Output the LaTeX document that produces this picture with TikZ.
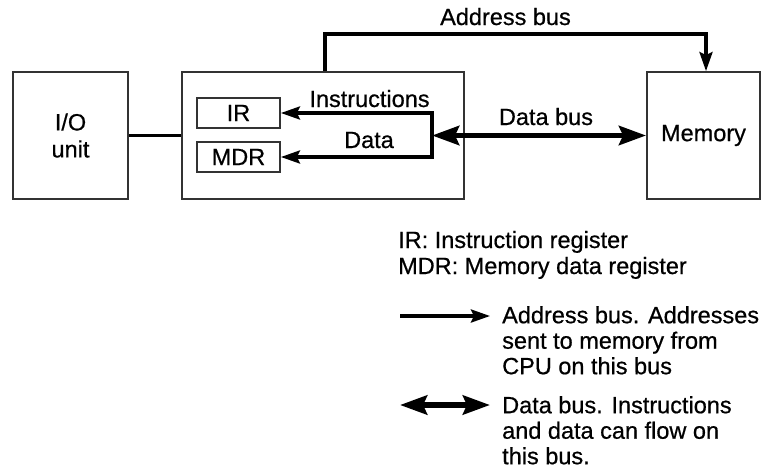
\documentclass[tikz,border=0pt]{standalone}
\usepackage{fontspec}
\setmainfont[FakeBold=0.6]{Liberation Sans}
\usetikzlibrary{arrows.meta}
\begin{document}
\begin{tikzpicture}[x=1pt,y=-1pt,
  lbl/.style={font=\fontsize{23.5}{25.5}\selectfont,inner sep=0pt},
  box/.style={draw=black!80,line width=1.8pt,inner sep=0pt,font=\fontsize{23.5}{27}\selectfont,align=center},
  conn/.style={line width=3.3pt,line join=miter},
  thick bus/.style={line width=5.5pt},
  headS/.tip={Stealth[length=19pt,width=13pt,inset=3pt]},
  headB/.tip={Stealth[length=27pt,width=19pt,inset=4pt]}]
\useasboundingbox (0,0) rectangle (762,472);
% boxes
\node[box,minimum width=115pt,minimum height=127pt] (io) at (70.5,135.5) {I/O\\unit};
\node[box,minimum width=282pt,minimum height=127pt] (cpu) at (323,135.5) {};
\node[box,minimum width=113pt,minimum height=127pt] (mem) at (703.5,135.5) {Memory};
\node[box,minimum width=83pt,minimum height=30pt] (ir) at (238.5,113) {IR};
\node[box,minimum width=83pt,minimum height=30pt] (mdr) at (238.5,157) {MDR};
% connectors
\draw[conn] (io) -- (cpu);
\coordinate (abtop) at (325,34);
\draw[conn,-headS] ([xshift=2pt]cpu.north) -- (abtop) -| ([xshift=2.5pt]mem.north);
\node[lbl,anchor=base] (ablbl) at (505.5,25) {Address bus};
\coordinate (j) at (432,135.5);
\draw[conn,headS-headS] (ir.east) -| (j) |- (mdr.east);
\draw[thick bus,headB-headB] (j) -- (mem.west);
\node[lbl,anchor=base] (instr) at (369.5,107) {Instructions};
\node[lbl,anchor=base] (data) at (369,148) {Data};
\node[lbl,anchor=base] (dblbl) at (546,125) {Data bus};
% legend
\node[lbl,anchor=base west] (k1) at (398,248) {IR: Instruction register};
\node[lbl,anchor=base west] (k2) at (398,274) {MDR: Memory data register};
\coordinate (l1a) at (400,316);
\coordinate (l1b) at (490,316);
\draw[conn,-headS] (l1a) -- (l1b);
\node[lbl,anchor=north west,align=left] (t1) at (502,306) {Address bus. Addresses\\sent to memory from\\CPU on this bus};
\coordinate (l2a) at (400,405);
\coordinate (l2b) at (490,405);
\draw[thick bus,headB-headB] (l2a) -- (l2b);
\node[lbl,anchor=north west,align=left] (t2) at (502,396) {Data bus. Instructions\\and data can flow on\\this bus.};
\end{tikzpicture}
\end{document}
